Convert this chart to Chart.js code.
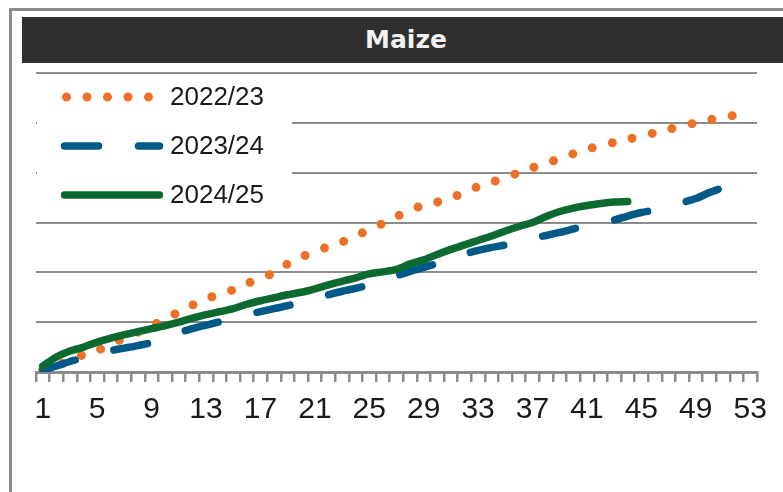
<!DOCTYPE html>
<html lang="en">
<head>
  <meta charset="UTF-8">
  <title>Maize</title>
  <script src="https://cdn.jsdelivr.net/npm/chart.js"></script>
  <style>
    body, html {
      width: 783px;
      height: 492px;
      margin: 0;
      padding: 0;
      overflow: hidden;
      background: #fff;
      position: relative;
    }
    .frame {
      position: absolute;
      left: 9px;
      top: 8px;
      width: 800px;
      height: 500px;
      border-left: 3px solid #8c8c8c;
      border-top: 3px solid #8c8c8c;
    }
    .title {
      position: absolute;
      left: 22px;
      top: 17px;
      width: 768px;
      height: 46px;
      line-height: 46px;
      background: #2e2f2e;
      color: #f2f2f2;
      text-align: center;
      font-family: "DejaVu Sans", sans-serif;
      font-weight: bold;
      font-size: 25px;
    }
    #chart {
      position: absolute;
      left: 0;
      top: 0;
    }
  </style>
</head>
<body>
  <div class="frame"></div>
  <div class="title">Maize</div>
  <canvas id="chart" width="783" height="492"></canvas>

  <script>
    // marketing weeks
    const weeks = [1, 2, 3, 4, 5, 6, 7, 8, 9, 10, 11, 12, 13, 14, 15, 16, 17, 18, 19, 20,
      21, 22, 23, 24, 25, 26, 27, 28, 29, 30, 31, 32, 33, 34, 35, 36, 37, 38, 39, 40,
      41, 42, 43, 44, 45, 46, 47, 48, 49, 50, 51, 52, 53];
    const shownLabels = [1, 5, 9, 13, 17, 21, 25, 29, 33, 37, 41, 45, 49, 53];
    const seriesNames = ['2022/23', '2023/24', '2024/25'];

    const s2022 = [0.5, 1.3, 2.3, 3.5, 4.3, 5.6, 6.8, 8.0, 9.3, 10.5,
      12.1, 13.4, 14.7, 15.6, 16.5, 17.7, 18.9, 19.9, 21.7, 23.1,
      24.0, 25.2, 26.1, 27.2, 28.7, 29.8, 31.2, 32.3, 33.6, 34.1,
      34.8, 36.2, 37.2, 38.1, 39.0, 40.0, 41.0, 41.8, 42.9, 43.8,
      44.7, 45.4, 46.1, 46.7, 47.4, 48.0, 48.7, 49.4, 50.0, 50.6,
      51.1, 51.6];
    const s2023 = [0.4, 1.2, 2.1, 2.9, 3.7, 4.3, 4.8, 5.3, 5.9, 7.0,
      7.9, 8.7, 9.4, 10.1, 10.9, 11.5, 12.1, 12.7, 13.3, 14.0,
      14.8, 15.5, 16.2, 16.8, 17.5, 18.4, 19.3, 20.2, 21.0, 21.8,
      22.8, 23.7, 24.4, 25.0, 25.5, 26.2, 26.9, 27.4, 28.0, 28.7,
      29.4, 30.0, 30.5, 31.3, 32.0, 32.5, 33.2, 34.0, 34.8, 36.0,
      37.0];
    const s2024 = [1.2, 3.0, 4.2, 5.0, 6.0, 6.8, 7.5, 8.1, 8.7, 9.3,
      10.0, 10.8, 11.5, 12.1, 12.7, 13.6, 14.3, 14.9, 15.5, 16.0,
      16.7, 17.5, 18.2, 18.9, 19.7, 20.1, 20.6, 21.7, 22.5, 23.6,
      24.6, 25.5, 26.4, 27.3, 28.3, 29.2, 30.0, 31.2, 32.2, 32.9,
      33.4, 33.8, 34.1, 34.2];

    const orange = '#ed7026';
    const blue = '#005a88';
    const green = '#0c6a31';
    const gridGray = '#8c8c8c';

    // legend drawn inside the plot area, over the gridlines
    const insideLegend = {
      id: 'insideLegend',
      beforeDatasetsDraw(chart) {
        const ctx = chart.ctx;
        const a = chart.chartArea;
        ctx.save();
        ctx.fillStyle = '#fff';
        ctx.fillRect(a.left + 1, a.top + 2, 255, 145);
        const rows = [97, 146, 195];
        chart.data.datasets.forEach((ds, i) => {
          const y = rows[i];
          ctx.beginPath();
          ctx.strokeStyle = ds.borderColor;
          ctx.lineWidth = ds.borderWidth;
          ctx.lineCap = 'round';
          ctx.setLineDash(ds.borderDash || []);
          const x0 = i === 0 ? 66.5 : 64.5;
          ctx.moveTo(x0, y);
          ctx.lineTo(i === 0 ? 160 : 159.5, y);
          ctx.stroke();
          ctx.setLineDash([]);
          ctx.fillStyle = '#1a1a1a';
          ctx.font = '26px "Liberation Sans", Arial, sans-serif';
          ctx.textBaseline = 'middle';
          ctx.fillText(ds.label, 170, y + 1);
        });
        ctx.restore();
      }
    };

    new Chart(document.getElementById('chart'), {
      type: 'line',
      data: {
        labels: weeks,
        datasets: [
          {
            label: seriesNames[0], data: s2022, borderColor: orange, borderWidth: 9,
            borderDash: [0, 20.5], borderCapStyle: 'round', order: 2
          },
          {
            label: seriesNames[1], data: s2023, borderColor: blue, borderWidth: 7.5,
            borderDash: [34, 40], borderCapStyle: 'round', order: 1
          },
          {
            label: seriesNames[2], data: s2024, borderColor: green, borderWidth: 7.5,
            borderCapStyle: 'round', order: 0
          }
        ]
      },
      options: {
        responsive: false,
        animation: false,
        elements: {
          point: { radius: 0 },
          line: { tension: 0.3, fill: false }
        },
        layout: { padding: { left: 36, top: 73, right: 26, bottom: 0 } },
        plugins: {
          legend: { display: false },
          tooltip: { enabled: false },
          title: { display: false }
        },
        scales: {
          x: {
            offset: true,
            grid: {
              offset: true,
              drawOnChartArea: false,
              drawTicks: true,
              tickLength: 10,
              color: gridGray,
              lineWidth: 2.5
            },
            border: { display: true, color: gridGray, width: 3 },
            ticks: {
              autoSkip: false,
              maxRotation: 0,
              padding: 10,
              color: '#1a1a1a',
              font: { family: '"Liberation Sans", Arial, sans-serif', size: 30 },
              callback: function (value) {
                const w = weeks[value];
                return shownLabels.includes(w) ? String(w) : '';
              }
            },
            afterFit(scale) { scale.height = 120; }
          },
          y: {
            min: 0,
            max: 60,
            ticks: { display: false, stepSize: 10 },
            grid: { color: gridGray, lineWidth: 2, drawTicks: false },
            border: { display: false },
            afterFit(scale) { scale.width = 0; }
          }
        }
      },
      plugins: [insideLegend]
    });
  </script>
</body>
</html>
